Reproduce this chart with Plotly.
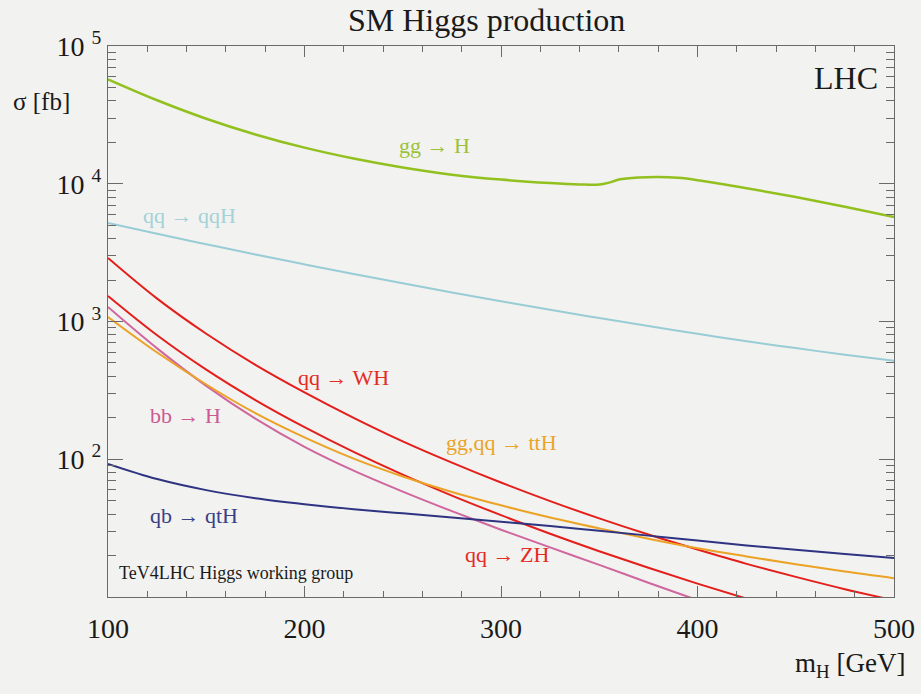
import plotly.graph_objects as go

# Higgs mass grid [GeV]
mH = [100, 125, 150, 175, 200, 225, 250, 275, 300, 325, 350, 375, 400, 425, 450, 475, 500]
mH_gg = [100, 125, 150, 175, 200, 225, 250, 275, 300, 325, 340, 350, 355, 360, 370, 380, 390, 400, 425, 450, 475, 500]

# cross sections [fb]
sigma_ggH = [57280, 40360, 29650, 22800, 18280, 15240, 13120, 11640, 10720, 10120, 9886, 9863, 10190, 10720,
             11090, 11190, 11040, 10620, 9290, 8000, 6810, 5740]
sigma_qqH = [5190, 4335, 3639, 3069, 2600, 2213, 1892, 1626, 1403, 1216, 1059, 927, 815, 719, 641, 574, 519]
sigma_WH = [2891, 1466, 815, 485, 306, 200, 135, 94.6, 67.8, 49.7, 37.2, 28.4, 22.1, 17.4, 14.0, 11.4, 9.46]
sigma_ZH = [1531, 794, 447, 269, 171, 113, 77.3, 54.5, 39.3, 28.8, 21.5, 16.3, 12.5, 9.73, 7.64, 6.07, 4.88]
sigma_bbH = [1274, 638, 341, 197, 123, 82.6, 58.2, 42.0, 30.8, 22.9, 17.1, 12.7, 9.5, 7.1, 5.3, 3.9, 2.9]
sigma_ttH = [1079, 596, 349, 216, 144, 101, 75.0, 57.9, 46.3, 37.8, 31.5, 26.5, 22.6, 19.7, 17.3, 15.3, 13.7]
sigma_qtH = [92.5, 71.8, 59.7, 52.2, 47.2, 43.4, 40.5, 37.8, 35.2, 32.7, 30.3, 27.9, 25.7, 23.7, 22.0, 20.5, 19.2]

series = [
    ("gg → H", mH_gg, sigma_ggH, "#92c01e", 2.5),
    ("qq → qqH", mH, sigma_qqH, "#98cdd5", 2.0),
    ("qq → WH", mH, sigma_WH, "#e41e1a", 2.0),
    ("qq → ZH", mH, sigma_ZH, "#e41e1a", 2.0),
    ("bb → H", mH, sigma_bbH, "#d0669e", 2.0),
    ("gg,qq → ttH", mH, sigma_ttH, "#eba225", 2.0),
    ("qb → qtH", mH, sigma_qtH, "#2e3382", 2.0),
]

# curve labels: text, x [GeV], log10(sigma), colour
labels = [
    ("gg → H", 266, 4.281, "#9cc23a"),
    ("qq → qqH", 141.7, 3.773, "#a3d2d8"),
    ("qq → WH", 220, 2.59, "#e52b1f"),
    ("bb → H", 139.2, 2.321, "#cc5a92"),
    ("gg,qq → ttH", 300, 2.125, "#e9a52a"),
    ("qb → qtH", 143.8, 1.595, "#3a3f86"),
    ("qq → ZH", 303, 1.305, "#e52b1f"),
]

y_tickvals = [1e2, 1e3, 1e4, 1e5]
y_ticktext = ["10 <sup>2</sup>", "10 <sup>3</sup>", "10 <sup>4</sup>", "10 <sup>5</sup>"]
y_minor = [k * 10 ** e for e in range(1, 5) for k in range(2, 10)]

FONT = "Liberation Serif"
BG = "#f2f2f0"
AX = "#6a6a6a"
INK = "#1a1a1a"

fig = go.Figure()
for name, xs, ys, col, w in series:
    fig.add_trace(go.Scatter(x=xs, y=ys, mode="lines", name=name,
                             line=dict(color=col, width=w, shape="spline", smoothing=1.0)))

for txt, x, ly, col in labels:
    fig.add_annotation(x=x, y=ly, xref="x", yref="y", text=txt, showarrow=False,
                       xanchor="center", yanchor="middle",
                       font=dict(family=FONT, size=22, color=col))


def paper_text(txt, x, y, size, xanchor="center"):
    fig.add_annotation(x=x, y=y, xref="paper", yref="paper", text=txt, showarrow=False,
                       xanchor=xanchor, yanchor="middle", font=dict(family=FONT, size=size, color=INK))


paper_text("SM Higgs production", 0.481, 1.047, 32)
paper_text("LHC", 0.982, 0.942, 32, xanchor="right")
paper_text("TeV4LHC Higgs working group", 0.0115, 0.0436, 18, xanchor="left")
paper_text("σ [fb]", -0.084, 0.90, 25)
paper_text("m<sub>H</sub> [GeV]", 0.944, -0.123, 27)

fig.update_xaxes(range=[100, 500], tickvals=[100, 200, 300, 400, 500], ticks="inside", ticklen=11,
                 tickcolor=AX, showline=True, linecolor=AX, linewidth=1, mirror="ticks",
                 showgrid=False, zeroline=False, ticklabelstandoff=6, automargin=False,
                 tickfont=dict(family=FONT, size=28, color=INK),
                 minor=dict(ticks="inside", ticklen=6, dtick=20, tick0=100, tickcolor=AX, showgrid=False))
fig.update_yaxes(type="log", range=[1, 5], tickvals=y_tickvals, ticktext=y_ticktext, ticks="inside",
                 ticklen=15, tickcolor=AX, showline=True, linecolor=AX, linewidth=1, mirror="ticks",
                 showgrid=False, zeroline=False, automargin=False,
                 tickfont=dict(family=FONT, size=28, color=INK),
                 minor=dict(ticks="inside", ticklen=8, tickvals=y_minor, tickcolor=AX, showgrid=False))

fig.update_layout(width=921, height=694, margin=dict(l=108, r=27, t=46, b=97, autoexpand=False),
                  paper_bgcolor=BG, plot_bgcolor=BG, showlegend=False,
                  font=dict(family=FONT, color=INK))

fig.write_html("out.html",
               config={"displayModeBar": False},
               post_script="document.body.style.margin='0px';"
                           "document.body.style.background='#f2f2f0';"
                           "document.body.style.overflow='hidden';")
